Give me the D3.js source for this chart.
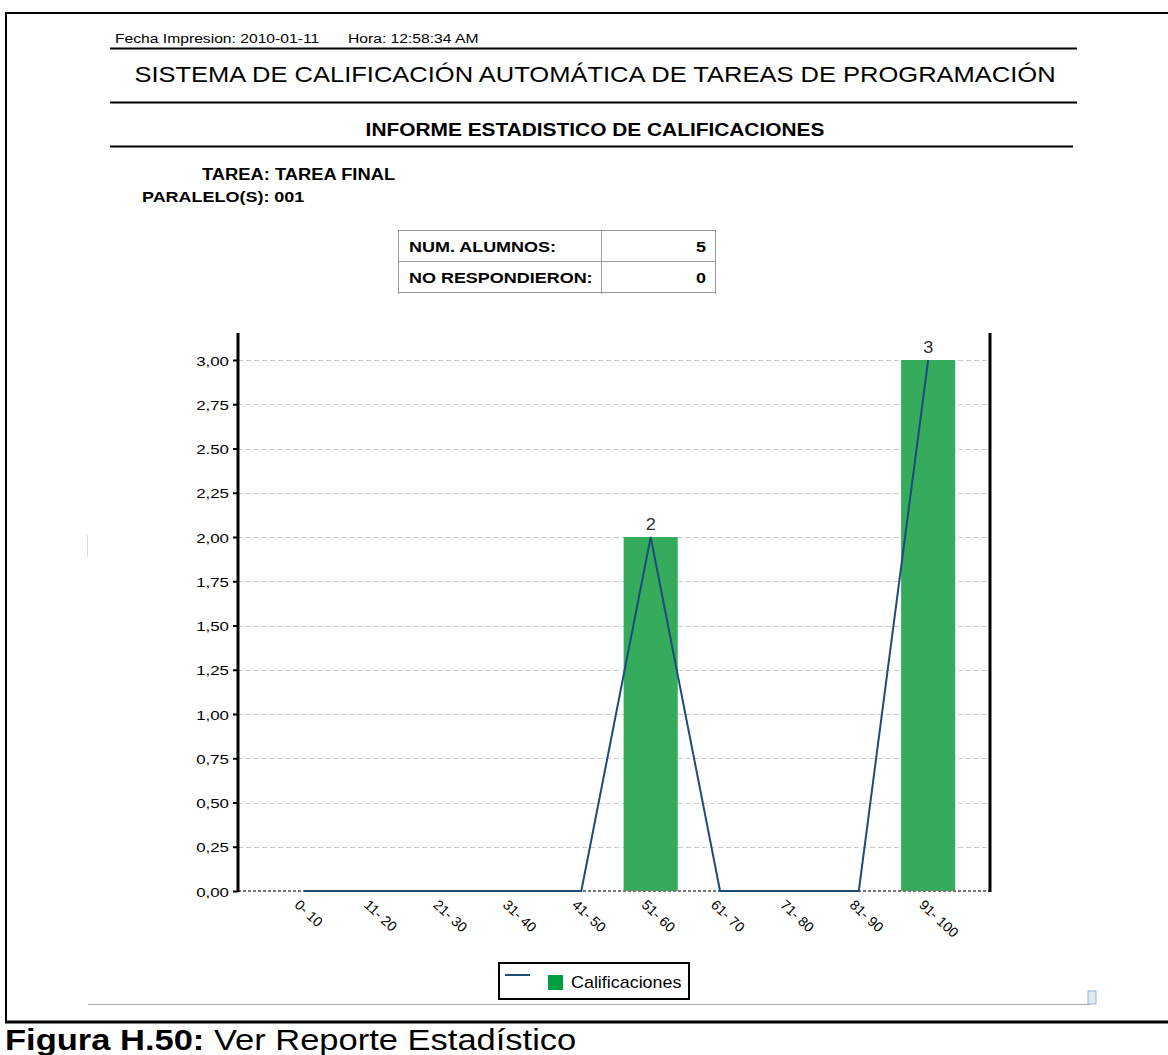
<!DOCTYPE html>
<html>
<head>
<meta charset="utf-8">
<script src="https://cdn.jsdelivr.net/npm/d3@7"></script>
<style>
  body { margin: 0; background: #fff; }
  svg { display: block; font-family: "Liberation Sans", Arial, sans-serif; }
</style>
</head>
<body>
<div id="chart"></div>
<script>
'use strict';

// rangos de calificacion y cantidad de alumnos
var categories = ['0- 10', '11- 20', '21- 30', '31- 40', '41- 50', '51- 60', '61- 70', '71- 80', '81- 90', '91- 100'];
var counts = [0, 0, 0, 0, 0, 2, 0, 0, 0, 3];
var yTicks = [0, 0.25, 0.5, 0.75, 1, 1.25, 1.5, 1.75, 2, 2.25, 2.5, 2.75, 3];
var yTickLabels = ['0,00', '0,25', '0,50', '0,75', '1,00', '1,25', '1,50', '1,75', '2,00', '2,25', '2.50', '2,75', '3,00'];
var tableRows = [['NUM. ALUMNOS:', '5'], ['NO RESPONDIERON:', '0']];

var width = 1168, height = 1055;

var svg = d3.select('#chart').append('svg')
  .attr('width', width)
  .attr('height', height);

// la captura original esta algo estirada en horizontal
function label(parent, x, y, size, sx, str) {
  return parent.append('text')
    .attr('transform', 'translate(' + x + ',' + y + ') scale(' + sx + ',1)')
    .attr('font-size', size)
    .text(str);
}

// marco de la figura
svg.append('line').attr('x1', 6).attr('x2', 6).attr('y1', 12).attr('y2', 1023)
  .attr('stroke', '#000').attr('stroke-width', 2);
svg.append('line').attr('x1', 5).attr('x2', 1168).attr('y1', 13).attr('y2', 13)
  .attr('stroke', '#000').attr('stroke-width', 2);
svg.append('line').attr('x1', 5).attr('x2', 1168).attr('y1', 1022).attr('y2', 1022)
  .attr('stroke', '#000').attr('stroke-width', 3);

// cabecera
label(svg, 115, 43, 13.5, 1.16, 'Fecha Impresion: 2010-01-11')
label(svg, 348, 43, 13.5, 1.16, 'Hora: 12:58:34 AM')
svg.append('line').attr('x1', 110).attr('x2', 1077).attr('y1', 48.5).attr('y2', 48.5)
  .attr('stroke', '#000').attr('stroke-width', 2);
label(svg, 595, 82, 22, 1.16, 'SISTEMA DE CALIFICACIÓN AUTOMÁTICA DE TAREAS DE PROGRAMACIÓN')
  .attr('text-anchor', 'middle');
svg.append('line').attr('x1', 110).attr('x2', 1077).attr('y1', 102.5).attr('y2', 102.5)
  .attr('stroke', '#000').attr('stroke-width', 2);
label(svg, 595, 136, 18, 1.16, 'INFORME ESTADISTICO DE CALIFICACIONES')
  .attr('font-weight', 'bold').attr('text-anchor', 'middle');
svg.append('line').attr('x1', 110).attr('x2', 1073).attr('y1', 146.5).attr('y2', 146.5)
  .attr('stroke', '#000').attr('stroke-width', 2);

label(svg, 202, 180, 15.8, 1.16, 'TAREA: TAREA FINAL').attr('font-weight', 'bold');
label(svg, 142, 202, 15.5, 1.16, 'PARALELO(S): 001').attr('font-weight', 'bold');

// tabla resumen
var tx = 398, tSplit = 601, tRight = 715, tTop = 230, rowH = 31;
var table = svg.append('g');
table.selectAll('line.h').data(d3.range(tableRows.length + 1)).join('line')
  .attr('x1', tx).attr('x2', tRight)
  .attr('y1', function(i) { return tTop + i * rowH + 0.5; })
  .attr('y2', function(i) { return tTop + i * rowH + 0.5; })
  .attr('stroke', '#999');
[tx, tSplit, tRight].forEach(function(x) {
  table.append('line').attr('x1', x + 0.5).attr('x2', x + 0.5)
    .attr('y1', tTop).attr('y2', tTop + tableRows.length * rowH + 2)
    .attr('stroke', '#999');
});
tableRows.forEach(function(d, i) {
  label(table, tx + 11, tTop + i * rowH + 22, 15.5, 1.16, d[0]).attr('font-weight', 'bold');
  label(table, tRight - 9, tTop + i * rowH + 22, 15.5, 1.16, d[1])
    .attr('font-weight', 'bold').attr('text-anchor', 'end');
});

// grafico
var plot = { left: 238, right: 990, top: 333, bottom: 891 };

var x = d3.scaleBand()
  .domain(categories)
  .range([plot.left + 2, plot.right + 2])
  .paddingInner(0.22)
  .paddingOuter(0.53);

var y = d3.scaleLinear()
  .domain([0, 3])
  .range([plot.bottom, 360]);

var g = svg.append('g');

// lineas de cuadricula
g.selectAll('line.grid').data(yTicks.slice(1)).join('line')
  .attr('x1', plot.left).attr('x2', plot.right)
  .attr('y1', function(d) { return Math.round(y(d)) + 0.5; })
  .attr('y2', function(d) { return Math.round(y(d)) + 0.5; })
  .attr('stroke', '#ccc').attr('stroke-dasharray', '5,3');

// barras
g.selectAll('rect.bar').data(counts).join('rect')
  .attr('x', function(d, i) { return x(categories[i]); })
  .attr('y', function(d) { return y(d); })
  .attr('width', x.bandwidth())
  .attr('height', function(d) { return y(0) - y(d); })
  .attr('fill', '#34ac5c');

// linea base
g.append('line').attr('x1', plot.left).attr('x2', plot.right)
  .attr('y1', plot.bottom).attr('y2', plot.bottom)
  .attr('stroke', '#777').attr('stroke-width', 2).attr('stroke-dasharray', '3,2');

// serie linea
var line = d3.line()
  .x(function(d, i) { return x(categories[i]) + x.bandwidth() / 2; })
  .y(function(d) { return y(d); });
g.append('path').datum(counts)
  .attr('d', line)
  .attr('fill', 'none')
  .attr('stroke', '#1e4a7c')
  .attr('stroke-width', 2);

// etiquetas de valor
counts.forEach(function(d, i) {
  if (d > 0) {
    label(g, x(categories[i]) + x.bandwidth() / 2, y(d) - 7, 16.5, 1.1, d)
      .attr('text-anchor', 'middle').attr('fill', '#333');
  }
});

// eje y
var yAxis = d3.axisLeft(y)
  .tickValues(yTicks)
  .tickFormat(function(d, i) { return yTickLabels[i]; })
  .tickSize(5)
  .tickPadding(4);
var ya = g.append('g').attr('transform', 'translate(' + plot.left + ',0)').call(yAxis);
ya.select('.domain').remove();
ya.selectAll('line').attr('stroke', '#000').attr('stroke-width', 2);
ya.selectAll('text')
  .attr('font-size', 13.5).attr('fill', '#000')
  .attr('font-family', '"Liberation Sans", Arial, sans-serif')
  .attr('x', null).attr('dy', null)
  .attr('transform', 'translate(-9,5) scale(1.25,1)');

g.append('line').attr('x1', plot.left).attr('x2', plot.left)
  .attr('y1', plot.top).attr('y2', plot.bottom + 1)
  .attr('stroke', '#000').attr('stroke-width', 3);
g.append('line').attr('x1', plot.right).attr('x2', plot.right)
  .attr('y1', plot.top).attr('y2', plot.bottom + 1)
  .attr('stroke', '#000').attr('stroke-width', 3);

// eje x
var xAxis = d3.axisBottom(x).tickSize(0).tickPadding(0);
var xa = g.append('g').attr('transform', 'translate(0,' + plot.bottom + ')').call(xAxis);
xa.select('.domain').remove();
xa.selectAll('text')
  .attr('font-size', 14).attr('fill', '#000')
  .attr('font-family', '"Liberation Sans", Arial, sans-serif')
  .attr('text-anchor', 'start')
  .attr('dy', null).attr('y', 0)
  .attr('transform', 'translate(-10,15) rotate(43)');

// leyenda
var legend = svg.append('g').attr('transform', 'translate(499,963)');
legend.append('rect').attr('width', 190).attr('height', 36)
  .attr('fill', '#fff').attr('stroke', '#000').attr('stroke-width', 2);
legend.append('line').attr('x1', 6).attr('x2', 31).attr('y1', 12).attr('y2', 12)
  .attr('stroke', '#1e4a7c').attr('stroke-width', 2);
legend.append('rect').attr('x', 49).attr('y', 12).attr('width', 15).attr('height', 15)
  .attr('fill', '#00a040');
label(legend, 72, 25, 16, 1.12, 'Calificaciones');

// restos de la captura
svg.append('line').attr('x1', 88).attr('x2', 1090).attr('y1', 1004.5).attr('y2', 1004.5)
  .attr('stroke', '#aaa');
svg.append('rect').attr('x', 1088).attr('y', 991).attr('width', 8).attr('height', 13)
  .attr('fill', '#dfe9f5').attr('stroke', '#9bb0cc');
svg.append('line').attr('x1', 87.5).attr('x2', 87.5).attr('y1', 535).attr('y2', 557)
  .attr('stroke', '#d8e0c8');

// pie de figura
var cap = svg.append('text')
  .attr('transform', 'translate(5,1050) scale(1.19,1)')
  .attr('font-size', 29);
cap.append('tspan').attr('font-weight', 'bold').text('Figura H.50:');
cap.append('tspan').text(' Ver Reporte Estadístico');
</script>
</body>
</html>
